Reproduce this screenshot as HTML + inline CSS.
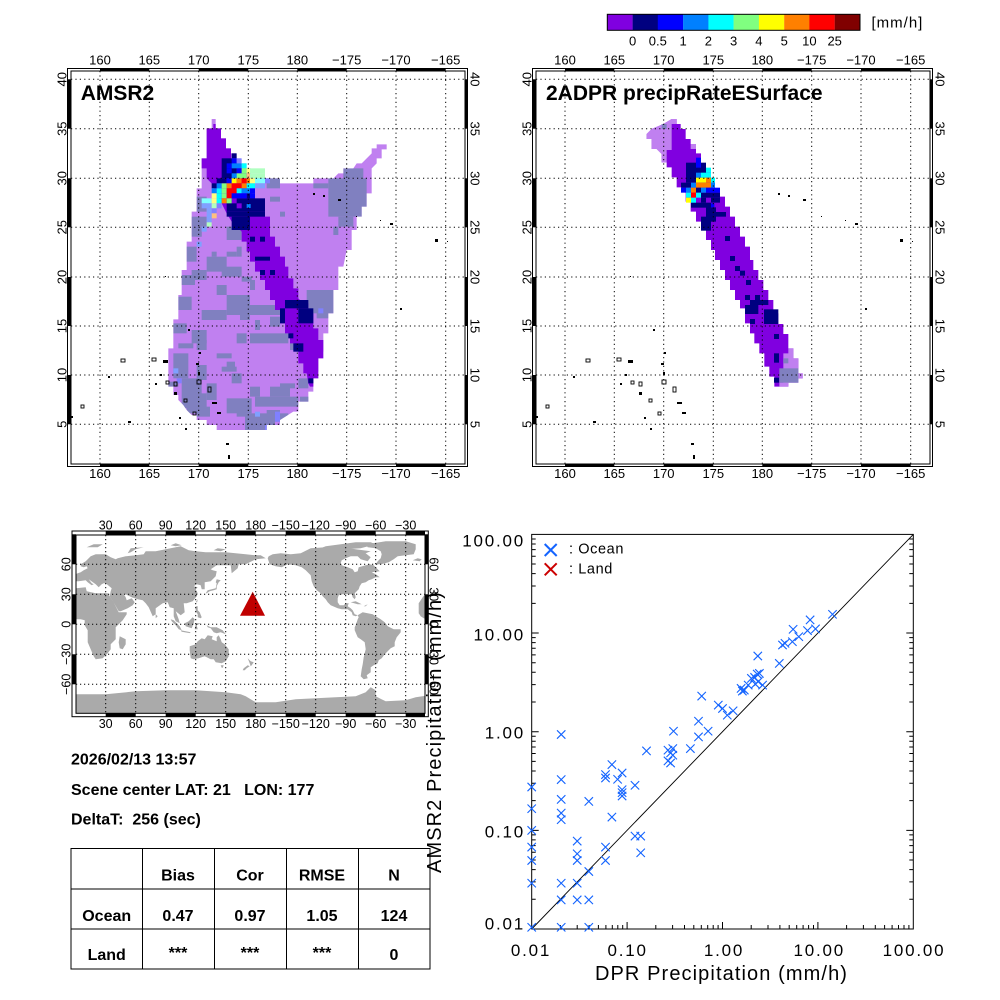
<!DOCTYPE html>
<html><head><meta charset="utf-8">
<style>
html,body{margin:0;padding:0;background:#fff;}
svg{display:block;font-family:"Liberation Sans",sans-serif;}
</style></head><body>
<svg width="1000" height="1000" viewBox="0 0 1000 1000" xmlns="http://www.w3.org/2000/svg">
<rect width="1000" height="1000" fill="#fff"/>
<defs>
<clipPath id="amsrclip"><polygon points="485,207 497,207 497,235 513,235 513,265 528,265 528,295 543,295 543,310 558,310 558,325 573,325 573,340 588,340 588,355 603,355 603,370 645,370 645,385 690,385 690,400 790,400 790,385 850,385 865,370 880,370 880,355 910,355 920,340 935,340 950,325 965,310 965,295 980,295 980,283 1010,283 1010,298 995,298 995,325 980,325 980,340 965,355 965,430 950,430 950,470 935,470 935,500 920,500 920,540 905,540 905,600 890,600 880,650 865,650 865,720 850,720 850,790 835,790 835,850 820,850 820,905 805,905 805,965 790,965 790,1025 775,1025 775,1055 745,1055 745,1085 730,1085 690,1110 690,1125 650,1125 650,1140 500,1140 500,1125 470,1125 470,1110 440,1110 440,1095 425,1095 410,1080 400,1065 385,1050 385,1035 370,1035 370,1010 355,1010 355,895 370,895 370,808 385,808 385,735 395,735 395,660 410,660 410,575 425,575 425,485 440,485 440,415 455,415 455,325 470,325 470,235 485,235"/></clipPath>
<clipPath id="worldclip"><rect x="76" y="535" width="349" height="178.3"/></clipPath>
<path id="xm" d="M-4.2,-4.2L4.2,4.2M-4.2,4.2L4.2,-4.2" stroke="#1464ff" stroke-width="1.1" fill="none"/>
<g id="islands" fill="#000">
<rect x="121" y="359" width="4" height="3" fill="none" stroke="#000" stroke-width="0.9"/>
<rect x="108" y="376" width="2" height="2"/>
<rect x="81" y="405" width="3" height="3" fill="none" stroke="#000" stroke-width="0.9"/>
<rect x="71" y="416" width="2" height="2"/>
<rect x="128" y="421" width="3" height="2"/>
<rect x="152" y="358" width="4" height="3" fill="none" stroke="#000" stroke-width="0.9"/>
<rect x="163" y="360" width="5" height="3"/>
<rect x="160" y="374" width="2" height="2"/>
<rect x="155" y="383" width="2" height="2"/>
<rect x="166" y="381" width="3" height="3" fill="none" stroke="#000" stroke-width="0.9"/>
<rect x="174" y="382" width="3" height="4" fill="none" stroke="#000" stroke-width="0.9"/>
<rect x="174" y="392" width="3" height="3"/>
<rect x="184" y="399" width="3" height="3" fill="none" stroke="#000" stroke-width="0.9"/>
<rect x="179" y="417" width="2" height="2"/>
<rect x="185" y="428" width="2" height="2"/>
<rect x="188" y="329" width="2" height="2"/>
<rect x="165" y="276" width="1" height="1"/>
<rect x="199" y="352" width="2" height="2"/>
<rect x="196" y="363" width="3" height="2"/>
<rect x="198" y="372" width="2" height="3"/>
<rect x="197" y="380" width="4" height="4" fill="none" stroke="#000" stroke-width="0.9"/>
<rect x="208" y="387" width="3" height="5" fill="none" stroke="#000" stroke-width="0.9"/>
<rect x="212" y="402" width="5" height="2"/>
<rect x="193" y="412" width="3" height="3" fill="none" stroke="#000" stroke-width="0.9"/>
<rect x="217" y="412" width="4" height="2"/>
<rect x="226" y="443" width="3" height="2"/>
<rect x="228" y="455" width="2" height="4"/>
<rect x="313" y="193" width="2" height="2"/>
<rect x="323" y="195" width="2" height="2"/>
<rect x="338" y="199" width="3" height="2"/>
<rect x="356" y="216" width="1" height="1"/>
<rect x="380" y="220" width="1" height="1"/>
<rect x="390" y="223" width="3" height="2"/>
<rect x="435" y="239" width="3" height="3"/>
<rect x="447" y="241" width="1" height="1"/>
<rect x="400" y="308" width="2" height="2"/>
</g>
<g id="mapframe">
<path d="M100 71V464M149.3 71V464M198.7 71V464M248.3 71V464M297.3 71V464M346.7 71V464M396 71V464M445.7 71V464M71 79.3H465M71 128.7H465M71 178.3H465M71 227.3H465M71 277H465M71 326H465M71 375H465M71 424.3H465" stroke="#000" stroke-width="1" stroke-dasharray="1.2 3.2" fill="none"/>
<g fill="#000">
<rect x="100" y="68" width="49.3" height="3"/><rect x="198.7" y="68" width="49.6" height="3"/><rect x="297.3" y="68" width="49.4" height="3"/><rect x="396" y="68" width="49.7" height="3"/>
<rect x="100" y="464" width="49.3" height="3"/><rect x="198.7" y="464" width="49.6" height="3"/><rect x="297.3" y="464" width="49.4" height="3"/><rect x="396" y="464" width="49.7" height="3"/>
<rect x="67" y="79.3" width="4" height="49.4"/><rect x="67" y="178.3" width="4" height="49"/><rect x="67" y="277" width="4" height="49"/><rect x="67" y="375" width="4" height="49.3"/>
<rect x="465" y="79.3" width="3" height="49.4"/><rect x="465" y="178.3" width="3" height="49"/><rect x="465" y="277" width="3" height="49"/><rect x="465" y="375" width="3" height="49.3"/>
</g>
<rect x="67.5" y="68.5" width="400" height="398" fill="none" stroke="#000" stroke-width="1"/>
<rect x="71" y="71" width="394" height="393" fill="none" stroke="#000" stroke-width="1"/>
</g>
</defs>

<!-- ================= AMSR2 map ================= -->
<g transform="translate(50,50) scale(0.333333)">
<polygon fill="#c080f0" points="485,207 497,207 497,235 513,235 513,265 528,265 528,295 543,295 543,310 558,310 558,325 573,325 573,340 588,340 588,355 603,355 603,370 645,370 645,385 690,385 690,400 790,400 790,385 850,385 865,370 880,370 880,355 910,355 920,340 935,340 950,325 965,310 965,295 980,295 980,283 1010,283 1010,298 995,298 995,325 980,325 980,340 965,355 965,430 950,430 950,470 935,470 935,500 920,500 920,540 905,540 905,600 890,600 880,650 865,650 865,720 850,720 850,790 835,790 835,850 820,850 820,905 805,905 805,965 790,965 790,1025 775,1025 775,1055 745,1055 745,1085 730,1085 690,1110 690,1125 650,1125 650,1140 500,1140 500,1125 470,1125 470,1110 440,1110 440,1095 425,1095 410,1080 400,1065 385,1050 385,1035 370,1035 370,1010 355,1010 355,895 370,895 370,808 385,808 385,735 395,735 395,660 410,660 410,575 425,575 425,485 440,485 440,415 455,415 455,325 470,325 470,235 485,235"/>
<g clip-path="url(#amsrclip)" fill="#8080c0">
<rect x="835" y="385" width="115" height="115"/><rect x="880" y="355" width="60" height="30"/><rect x="790" y="400" width="45" height="15"/>
<rect x="865" y="500" width="45" height="30"/><rect x="850" y="530" width="15" height="25"/>
<rect x="650" y="385" width="40" height="30"/><rect x="660" y="440" width="30" height="15"/><rect x="690" y="485" width="15" height="15"/>
<rect x="440" y="440" width="30" height="45"/><rect x="425" y="500" width="45" height="30"/><rect x="425" y="530" width="30" height="30"/>
<rect x="410" y="590" width="30" height="45"/><rect x="530" y="530" width="45" height="40"/><rect x="560" y="590" width="15" height="30"/>
<rect x="470" y="620" width="60" height="45"/><rect x="485" y="605" width="15" height="15"/><rect x="515" y="650" width="60" height="30"/>
<rect x="425" y="660" width="45" height="30"/><rect x="395" y="675" width="40" height="30"/><rect x="530" y="605" width="30" height="15"/>
<rect x="575" y="680" width="30" height="15"/><rect x="600" y="690" width="15" height="30"/><rect x="500" y="705" width="30" height="30"/>
<rect x="530" y="735" width="70" height="60"/><rect x="455" y="780" width="75" height="30"/><rect x="385" y="740" width="40" height="40"/>
<rect x="570" y="780" width="30" height="30"/><rect x="600" y="765" width="90" height="30"/><rect x="660" y="800" width="30" height="30"/>
<rect x="615" y="810" width="15" height="30"/><rect x="600" y="850" width="115" height="30"/><rect x="560" y="850" width="30" height="30"/>
<rect x="720" y="870" width="15" height="30"/><rect x="770" y="720" width="90" height="70"/><rect x="800" y="780" width="35" height="25"/>
<rect x="760" y="790" width="30" height="15"/>
<rect x="370" y="820" width="40" height="30"/><rect x="385" y="880" width="45" height="15"/><rect x="425" y="840" width="45" height="40"/>
<rect x="440" y="870" width="30" height="30"/><rect x="370" y="910" width="45" height="75"/><rect x="440" y="945" width="30" height="45"/>
<rect x="355" y="995" width="30" height="15"/><rect x="395" y="985" width="60" height="90"/><rect x="470" y="1000" width="30" height="50"/>
<rect x="410" y="1030" width="60" height="60"/><rect x="440" y="1070" width="40" height="30"/><rect x="500" y="910" width="45" height="15"/>
<rect x="530" y="935" width="25" height="25"/><rect x="515" y="950" width="45" height="15"/><rect x="545" y="970" width="30" height="30"/>
<rect x="530" y="1045" width="75" height="45"/><rect x="560" y="1070" width="30" height="30"/><rect x="600" y="1010" width="30" height="30"/>
<rect x="585" y="1090" width="90" height="50"/><rect x="615" y="1040" width="130" height="30"/><rect x="660" y="1010" width="60" height="30"/>
<rect x="690" y="1000" width="45" height="15"/><rect x="745" y="985" width="30" height="30"/><rect x="750" y="1040" width="30" height="30"/>
<rect x="600" y="1110" width="50" height="30"/><rect x="650" y="1080" width="40" height="30"/><rect x="670" y="1090" width="45" height="25"/>
<rect x="370" y="955" width="15" height="15" fill="#80a0ff"/><rect x="380" y="985" width="15" height="15" fill="#8080ff"/>
<rect x="615" y="1085" width="15" height="15" fill="#80a0ff"/><rect x="675" y="1085" width="15" height="30" fill="#8080ff"/>
<rect x="645" y="1125" width="15" height="15" fill="#8080ff"/><rect x="805" y="775" width="15" height="15" fill="#8080ff"/>
</g>
<polygon fill="#8000e0" points="490,222 497,222 497,235 513,235 513,265 528,265 528,295 543,295 543,325 560,340 575,355 590,370 600,385 600,425 615,440 615,455 630,455 630,470 645,470 645,500 660,500 660,560 675,560 675,590 690,590 690,620 705,620 705,650 715,650 715,685 730,685 730,715 745,715 745,745 760,760 775,760 775,790 790,790 790,835 805,835 805,870 820,870 820,925 805,925 805,985 790,985 790,1010 780,1010 775,1000 770,970 760,970 760,940 745,940 745,905 735,880 720,880 720,850 705,850 705,820 690,820 690,780 675,780 675,750 660,750 660,720 645,720 645,690 630,690 630,665 615,665 615,635 600,635 600,605 590,605 590,575 575,575 575,545 560,530 545,515 530,490 515,460 500,430 485,400 470,385 470,355 455,355 455,325 470,325 470,235 490,235"/>
<g fill="#000080">
<rect x="600" y="560" width="15" height="15"/><rect x="630" y="560" width="15" height="15"/><rect x="615" y="620" width="45" height="12"/>
<rect x="630" y="660" width="15" height="15"/><rect x="660" y="660" width="15" height="15"/><rect x="705" y="750" width="70" height="25"/>
<rect x="690" y="775" width="15" height="45"/><rect x="745" y="775" width="45" height="45"/><rect x="715" y="850" width="15" height="15"/>
<rect x="730" y="880" width="30" height="25"/><rect x="775" y="985" width="15" height="15"/>
</g>
</g>
<g transform="translate(150,110) scale(0.333333)">
<g fill="#000080">
<rect x="245" y="130" width="15" height="15"/><rect x="215" y="145" width="45" height="60"/><rect x="200" y="205" width="30" height="15"/>
<rect x="185" y="220" width="15" height="15"/><rect x="290" y="250" width="25" height="15"/><rect x="230" y="265" width="115" height="40"/>
<rect x="230" y="305" width="115" height="15"/><rect x="245" y="320" width="55" height="40"/>
</g>
<rect x="245" y="265" width="15" height="15" fill="#8000e0"/><rect x="260" y="280" width="15" height="15" fill="#8000e0"/><rect x="290" y="282" width="12" height="12" fill="#0080ff"/>
<rect x="245" y="145" width="15" height="15" fill="#0000ff"/><rect x="260" y="145" width="15" height="15" fill="#8080ff"/>
<rect x="230" y="160" width="15" height="15" fill="#0000ff"/><rect x="245" y="160" width="30" height="15" fill="#0080ff"/><rect x="275" y="160" width="15" height="15" fill="#00ffff"/>
<rect x="230" y="175" width="15" height="15" fill="#0000ff"/><rect x="260" y="175" width="15" height="15" fill="#0000ff"/><rect x="275" y="175" width="15" height="15" fill="#80ff80"/><rect x="290" y="175" width="10" height="15" fill="#ffff80"/><rect x="300" y="175" width="45" height="15" fill="#b0ffc0"/>
<rect x="245" y="190" width="15" height="15" fill="#0080ff"/><rect x="260" y="190" width="30" height="15" fill="#80ff80"/><rect x="290" y="190" width="10" height="15" fill="#ffc080"/><rect x="300" y="190" width="45" height="15" fill="#b0ffc0"/>
<rect x="230" y="205" width="15" height="15" fill="#0000ff"/><rect x="245" y="205" width="15" height="15" fill="#ffff00"/><rect x="260" y="205" width="15" height="15" fill="#ff8000"/><rect x="275" y="205" width="15" height="15" fill="#ff0000"/><rect x="290" y="205" width="10" height="15" fill="#ff8000"/><rect x="300" y="205" width="15" height="15" fill="#ffff80"/><rect x="315" y="205" width="30" height="15" fill="#80ffff"/><rect x="345" y="205" width="15" height="15" fill="#8080ff"/>
<rect x="200" y="220" width="15" height="15" fill="#0080ff"/><rect x="215" y="220" width="15" height="15" fill="#80ff80"/><rect x="230" y="220" width="15" height="15" fill="#ff8000"/><rect x="245" y="220" width="30" height="15" fill="#ff0000"/><rect x="275" y="220" width="15" height="15" fill="#ff8000"/><rect x="290" y="220" width="25" height="15" fill="#00ffff"/><rect x="315" y="220" width="30" height="15" fill="#80a0ff"/>
<rect x="185" y="235" width="15" height="15" fill="#0080ff"/><rect x="200" y="235" width="15" height="15" fill="#00ffff"/><rect x="215" y="235" width="15" height="15" fill="#80ff80"/><rect x="230" y="235" width="30" height="15" fill="#ff0000"/><rect x="260" y="235" width="15" height="15" fill="#00ffff"/><rect x="275" y="235" width="25" height="15" fill="#0080ff"/><rect x="300" y="235" width="15" height="15" fill="#0000ff"/>
<rect x="185" y="250" width="15" height="15" fill="#ffff80"/><rect x="200" y="250" width="15" height="15" fill="#00ffff"/><rect x="215" y="250" width="15" height="15" fill="#80ff80"/><rect x="230" y="250" width="15" height="15" fill="#ff0000"/><rect x="245" y="250" width="45" height="15" fill="#0000ff"/><rect x="300" y="250" width="15" height="15" fill="#0000ff"/>
<rect x="155" y="265" width="30" height="15" fill="#80ffff"/><rect x="185" y="265" width="15" height="15" fill="#ffff80"/><rect x="200" y="265" width="15" height="15" fill="#00ffff"/><rect x="215" y="265" width="15" height="15" fill="#ff8000"/><rect x="230" y="265" width="15" height="15" fill="#80ff80"/>
<rect x="155" y="280" width="30" height="15" fill="#80a0ff"/><rect x="185" y="280" width="15" height="15" fill="#b0ffc0"/><rect x="200" y="280" width="15" height="15" fill="#8080ff"/>
<rect x="170" y="295" width="15" height="15" fill="#80a0ff"/><rect x="185" y="295" width="15" height="15" fill="#8080ff"/>
<rect x="185" y="310" width="15" height="15" fill="#ffc080"/><rect x="170" y="310" width="15" height="15" fill="#80a0ff"/>
<rect x="170" y="325" width="15" height="12" fill="#80a0ff"/><rect x="170" y="337" width="15" height="13" fill="#b0ffc0"/>
<rect x="155" y="350" width="15" height="15" fill="#80a0ff"/><rect x="140" y="365" width="15" height="15" fill="#8080c0"/><rect x="140" y="395" width="15" height="15" fill="#80a0ff"/>
</g>
<use href="#islands"/>
<use href="#mapframe"/>
<text x="80.7" y="100" font-size="21" font-weight="bold">AMSR2</text>
<g font-size="13" text-anchor="middle">
<text x="100" y="64.7">160</text><text x="149.3" y="64.7">165</text><text x="198.7" y="64.7">170</text><text x="248.3" y="64.7">175</text><text x="297.3" y="64.7">180</text><text x="346.7" y="64.7">−175</text><text x="396" y="64.7">−170</text><text x="445.7" y="64.7">−165</text>
<text x="100" y="478">160</text><text x="149.3" y="478">165</text><text x="198.7" y="478">170</text><text x="248.3" y="478">175</text><text x="297.3" y="478">180</text><text x="346.7" y="478">−175</text><text x="396" y="478">−170</text><text x="445.7" y="478">−165</text>
<text transform="translate(66.7,79.3) rotate(-90)">40</text><text transform="translate(66.7,128.7) rotate(-90)">35</text><text transform="translate(66.7,178.3) rotate(-90)">30</text><text transform="translate(66.7,227.3) rotate(-90)">25</text><text transform="translate(66.7,277) rotate(-90)">20</text><text transform="translate(66.7,326) rotate(-90)">15</text><text transform="translate(66.7,375) rotate(-90)">10</text><text transform="translate(66.7,424.3) rotate(-90)">5</text>
<text transform="translate(470.6,79.3) rotate(90)">40</text><text transform="translate(470.6,128.7) rotate(90)">35</text><text transform="translate(470.6,178.3) rotate(90)">30</text><text transform="translate(470.6,227.3) rotate(90)">25</text><text transform="translate(470.6,277) rotate(90)">20</text><text transform="translate(470.6,326) rotate(90)">15</text><text transform="translate(470.6,375) rotate(90)">10</text><text transform="translate(470.6,424.3) rotate(90)">5</text>
</g>

<!-- ================= DPR map ================= -->
<g transform="translate(520,50) scale(0.333333)">
<polygon fill="#8000e0" points="455,207 430,222 395,237 380,252 380,267 395,267 395,297 410,297 425,312 425,337 440,337 440,352 455,352 455,382 470,382 470,412 485,412 485,427 497,427 497,455 512,455 512,485 528,485 528,515 543,515 543,540 558,540 558,570 573,570 573,600 585,600 585,630 600,630 600,660 615,660 615,690 630,690 630,720 645,720 645,750 660,750 660,775 675,775 675,820 690,820 690,850 703,850 703,880 718,880 718,910 733,910 733,950 748,950 748,980 763,980 763,1010 805,1010 805,998 835,998 835,985 848,985 848,970 835,970 835,925 820,925 820,895 805,895 805,852 790,852 790,822 775,822 775,790 760,790 760,750 745,750 745,720 730,720 730,690 715,690 715,660 700,660 700,630 690,630 690,590 675,590 675,560 660,560 660,530 645,530 645,500 630,500 630,470 615,470 615,440 600,440 600,415 585,415 585,385 573,385 573,355 558,355 558,340 543,340 543,310 528,310 528,282 512,282 512,267 497,267 497,237 482,237 482,222 470,222 470,207"/>
<polygon fill="#c080f0" points="455,207 470,207 470,222 455,222 455,300 440,300 440,337 425,337 425,312 410,297 395,297 395,267 380,267 380,252 395,237 430,222"/>
<rect x="512" y="282" width="16" height="15" fill="#c080f0"/>
<rect x="425" y="222" width="15" height="15" fill="#8080c0"/>
<polygon fill="#c080f0" points="805,895 820,895 820,925 835,925 835,970 848,970 848,985 835,985 835,998 805,998 805,1010 778,1010 778,998 790,998 790,910 805,910"/>
<rect x="778" y="955" width="57" height="43" fill="#8080c0"/><rect x="790" y="925" width="15" height="15" fill="#8080c0"/>
<g fill="#000080">
<rect x="615" y="558" width="15" height="15"/><rect x="630" y="618" width="15" height="15"/><rect x="645" y="648" width="15" height="15"/>
<rect x="660" y="662" width="15" height="15"/><rect x="678" y="690" width="15" height="15"/><rect x="675" y="735" width="15" height="15"/>
<rect x="705" y="735" width="15" height="15"/><rect x="690" y="750" width="55" height="15"/><rect x="675" y="765" width="40" height="27"/>
<rect x="732" y="778" width="43" height="44"/><rect x="690" y="807" width="15" height="15"/><rect x="762" y="852" width="15" height="15"/>
<rect x="762" y="910" width="15" height="28"/><rect x="762" y="983" width="15" height="15"/>
</g>
</g>
<g transform="translate(640,120) scale(0.333333)">
<g fill="#000080">
<rect x="138" y="128" width="60" height="60"/><rect x="123" y="188" width="30" height="15"/><rect x="183" y="218" width="57" height="15"/>
<rect x="213" y="233" width="27" height="15"/><rect x="153" y="248" width="60" height="15"/><rect x="198" y="262" width="30" height="43"/>
<rect x="228" y="276" width="30" height="14"/><rect x="183" y="290" width="30" height="42"/><rect x="183" y="233" width="15" height="15"/>
</g>
<rect x="168" y="113" width="15" height="30" fill="#0000ff"/>
<rect x="198" y="143" width="15" height="15" fill="#00ffff"/><rect x="183" y="158" width="30" height="15" fill="#00ffff"/><rect x="168" y="158" width="15" height="15" fill="#0080ff"/>
<rect x="168" y="173" width="30" height="15" fill="#ffff00"/><rect x="198" y="173" width="15" height="15" fill="#ff8000"/><rect x="213" y="173" width="12" height="15" fill="#00ffff"/>
<rect x="153" y="188" width="15" height="15" fill="#0080ff"/><rect x="168" y="188" width="45" height="15" fill="#ff8000"/><rect x="213" y="188" width="12" height="15" fill="#0080ff"/>
<rect x="123" y="203" width="15" height="15" fill="#0000ff"/><rect x="138" y="203" width="15" height="15" fill="#0080ff"/><rect x="153" y="203" width="15" height="15" fill="#ff8000"/><rect x="168" y="203" width="15" height="15" fill="#000080"/><rect x="183" y="203" width="15" height="15" fill="#0080ff"/><rect x="198" y="203" width="42" height="15" fill="#0000ff"/>
<rect x="138" y="218" width="15" height="15" fill="#00ffff"/><rect x="153" y="218" width="15" height="15" fill="#ff0000"/><rect x="168" y="218" width="15" height="15" fill="#00ffff"/>
<rect x="138" y="233" width="15" height="15" fill="#ffff00"/><rect x="153" y="233" width="15" height="15" fill="#00ffff"/>
<rect x="213" y="250" width="10" height="12" fill="#0000ff"/>
</g>
<g transform="translate(465,0)"><use href="#islands"/><use href="#mapframe"/></g>
<text x="546" y="100" font-size="21" font-weight="bold">2ADPR precipRateESurface</text>
<g font-size="13" text-anchor="middle">
<text x="565" y="64.7">160</text><text x="614.3" y="64.7">165</text><text x="663.7" y="64.7">170</text><text x="713.3" y="64.7">175</text><text x="762.3" y="64.7">180</text><text x="811.7" y="64.7">−175</text><text x="861" y="64.7">−170</text><text x="910.7" y="64.7">−165</text>
<text x="565" y="478">160</text><text x="614.3" y="478">165</text><text x="663.7" y="478">170</text><text x="713.3" y="478">175</text><text x="762.3" y="478">180</text><text x="811.7" y="478">−175</text><text x="861" y="478">−170</text><text x="910.7" y="478">−165</text>
<text transform="translate(531.7,79.3) rotate(-90)">40</text><text transform="translate(531.7,128.7) rotate(-90)">35</text><text transform="translate(531.7,178.3) rotate(-90)">30</text><text transform="translate(531.7,227.3) rotate(-90)">25</text><text transform="translate(531.7,277) rotate(-90)">20</text><text transform="translate(531.7,326) rotate(-90)">15</text><text transform="translate(531.7,375) rotate(-90)">10</text><text transform="translate(531.7,424.3) rotate(-90)">5</text>
<text transform="translate(935.6,79.3) rotate(90)">40</text><text transform="translate(935.6,128.7) rotate(90)">35</text><text transform="translate(935.6,178.3) rotate(90)">30</text><text transform="translate(935.6,227.3) rotate(90)">25</text><text transform="translate(935.6,277) rotate(90)">20</text><text transform="translate(935.6,326) rotate(90)">15</text><text transform="translate(935.6,375) rotate(90)">10</text><text transform="translate(935.6,424.3) rotate(90)">5</text>
</g>

<!-- ================= Colorbar ================= -->
<rect x="607.3" y="14.3" width="25.4" height="16" fill="#8000e0"/>
<rect x="632.6" y="14.3" width="25.4" height="16" fill="#000080"/>
<rect x="657.8" y="14.3" width="25.4" height="16" fill="#0000ff"/>
<rect x="683.1" y="14.3" width="25.4" height="16" fill="#0080ff"/>
<rect x="708.4" y="14.3" width="25.4" height="16" fill="#00ffff"/>
<rect x="733.6" y="14.3" width="25.4" height="16" fill="#80ff80"/>
<rect x="758.9" y="14.3" width="25.4" height="16" fill="#ffff00"/>
<rect x="784.2" y="14.3" width="25.4" height="16" fill="#ff8000"/>
<rect x="809.4" y="14.3" width="25.4" height="16" fill="#ff0000"/>
<rect x="834.7" y="14.3" width="25.3" height="16" fill="#800000"/>
<rect x="607.3" y="14.3" width="252.7" height="16" fill="none" stroke="#000" stroke-width="1"/>
<g font-size="13" text-anchor="middle">
<text x="632.6" y="45.5">0</text><text x="657.8" y="45.5">0.5</text><text x="683.1" y="45.5">1</text><text x="708.4" y="45.5">2</text><text x="733.6" y="45.5">3</text><text x="758.9" y="45.5">4</text><text x="784.2" y="45.5">5</text><text x="809.4" y="45.5">10</text><text x="834.7" y="45.5">25</text>
</g>
<text x="871.5" y="27.5" font-size="15" letter-spacing="1">[mm/h]</text>

<!-- ================= World map ================= -->
<g clip-path="url(#worldclip)">
<g transform="translate(75.7,624.3) scale(1,-1)" fill="#aaaaaa">
<polygon points="0,36 10,37 11,33 20,31 32,31 34,28 38,22 43,12 51,12 51,10 47,4 40,-3 40,-10 40,-15 35,-20 35,-25 32,-29 27,-34 20,-35 18,-32 15,-25 12,-18 12,-6 9,-1 9,4 5,5 0,5"/>
<polygon points="44,-12 50,-15 50,-20 47,-25 44,-24 43,-18"/>
<polygon points="0,43 3,43 10,44 12,42 16,39 18,40 16,41 13,45 20,40 23,37 26,40 28,41 30,41 36,36 35,33 34,28 39,20 43,13 45,13 52,16 57,19 59,22 56,26 51,24 50,27 48,30 50,30 56,27 62,25 67,24 70,21 73,17 77,8 80,10 80,16 87,21 92,22 94,17 98,16 98,8 100,3 104,1 103,5 100,13 105,9 109,12 108,21 111,21 117,23 121,28 122,31 120,35 122,37 118,38 121,40 125,39 126,35 129,35 129,42 135,43 140,48 141,53 137,54 135,55 141,59 150,59 155,59 156,51 162,56 163,60 170,60 180,65 190,66 185,69 180,69 170,70 160,71 150,72 140,72 130,72 120,73 113,74 105,78 100,77 90,75 80,73 70,73 68,70 60,69 50,68 42,66 40,65 35,67 30,70 20,70 15,68 10,63 5,60 5,58 8,57 11,58 12,56 8,54 5,52 2,51 0,50"/>
<polygon points="52,71 55,76 68,77 60,75 55,72"/>
<polygon points="11,77 18,80 27,80 22,77 15,77"/>
<polygon points="95,79 100,81 106,79 100,78"/>
<polygon points="138,74 142,76 150,75 145,73"/>
<polygon points="130,31 132,34 136,35 140,36 141,41 140,42 141,45 145,44 143,42 141,38 141,35 138,34 134,33 131,31"/>
<polygon points="120,18 122,18 122,14 124,12 126,7 125,6 122,7 122,10 120,13 120,16"/>
<polygon points="120,22 122,25 121.5,22"/>
<polygon points="109,1 110,-2 116,-4 118,1 119,5 117,7 113,3"/>
<polygon points="95,5 98,4 104,-2 106,-6 103,-5 100,-1 96,3"/>
<polygon points="105,-6 115,-8 114,-8.8 106,-7.5"/>
<polygon points="119,-5 120,0 121,1 125,1 121,-1 122,-5"/>
<polygon points="131,-1 135,-3 141,-3 147,-6 150,-10 145,-8 141,-9 138,-8 135,-4 132,-3"/>
<polygon points="114,-22 114,-26 115,-34 118,-35 123,-34 129,-32 135,-35 138,-35 140,-38 146,-39 150,-37 153,-32 153,-25 149,-20 146,-18 145,-15 143,-11 141,-13 141,-17 136,-15 137,-12 132,-11 129,-15 126,-14 122,-17 120,-20"/>
<polygon points="145,-41 148,-41 147,-43.5 146,-43.5"/>
<polygon points="172,-34 175,-37 178,-38 176,-41 175,-42 174,-39"/>
<polygon points="172,-41 174,-42 171,-44 169,-46 167,-46 168,-44"/>
<polygon points="80,6 80,10 82,8"/>
<polygon points="354,50 358,51 360,53 358,57 354,58 355,55"/>
<polygon points="350,52 354,52 354,55 351,55"/>
<polygon points="337,64 342,66 346,65 344,63"/>
<polygon points="351,37 351,43 358,44 358,46 355,48 358,49 360,50 360,38 355,36"/>
<polygon points="343,15 343,21 347,27 350,31 354,35 360,36 360,5 352,5 348,6 345,8 343,11"/>
<polygon points="192,66 194,60 200,58 206,57 212,60 220,59 226,57 230,54 235,49 236,43 238,38 241,34 245,31 247,28 250,25 252,22 255,19 262,16 266,15 272,15 276,12 277,9 280,8 282,9 279,10 277,14 275,16 272,18 273,21 270,21 268,19 264,19 262,22 262,26 263,29 266,30 270,30 276,30 277,27 279,25 280,27 279,31 283,35 284,38 286,41 290,42 293,44 296,45 300,47 304,47 300,50 296,52 304,53 300,57 298,59 294,60 290,59 283,57 282,53 279,52 277,55 272,57 266,59 265,61 266,64 270,66 275,68 282,68 285,70 290,71 295,73 280,75 265,77 250,77 235,76 225,71 215,70 205,71 197,70 193,68"/>
<polygon points="250,78 265,80 280,82 295,82 300,80 285,76 270,75 255,75 245,76"/>
<polygon points="280,70 285,65 292,63 295,67 290,71 285,73 278,72"/>
<polygon points="300,60 305,60 313,62 318,65 322,68 338,70 340,75 340,80 330,83 310,83 290,80 292,77 300,76 305,73 306,70 305,66 302,63"/>
<polygon points="275,22 280,23 286,20 282,20"/>
<polygon points="288,18 292,20 290,18"/>
<polygon points="282,9 287,12 292,11 297,10 300,8 305,5 309,2 312,-2 318,-5 325,-5 325,-8 321,-13 319,-18 319,-22 315,-24 312,-27 309,-30 306,-34 303,-36 302,-39 298,-41 295,-43 295,-48 291,-51 292,-54 288,-55 285,-52 286,-45 287,-40 288,-33 290,-25 289,-18 285,-15 282,-13 279,-6 279,-3 280,-1 281,2 282,5 283,7"/>
<polygon points="0,-70 30,-70 60,-67 90,-66 120,-66 150,-68 165,-70 170,-72 180,-78 200,-78 220,-75 240,-74 260,-73 280,-72 290,-68 295,-63 300,-66 300,-72 310,-77 330,-76 340,-73 360,-70 360,-92 0,-92"/>
</g>
</g>
<polygon points="252.7,591.7 240,615.7 265,615.7" fill="#c00000"/>
<path d="M105.7 535V713M135.7 535V713M165.7 535V713M195.7 535V713M225.7 535V713M255.7 535V713M285.7 535V713M315.7 535V713M345.7 535V713M375.7 535V713M405.7 535V713M76 564.3H425M76 594.3H425M76 624.3H425M76 654.3H425M76 684.3H425" stroke="#000" stroke-width="1" stroke-dasharray="1.2 2.8" fill="none"/>
<g fill="#000">
<rect x="105.7" y="531" width="30" height="4"/><rect x="165.7" y="531" width="30" height="4"/><rect x="225.7" y="531" width="30" height="4"/><rect x="285.7" y="531" width="30" height="4"/><rect x="345.7" y="531" width="30" height="4"/><rect x="405.7" y="531" width="19.3" height="4"/>
<rect x="105.7" y="713.3" width="30" height="3.4"/><rect x="165.7" y="713.3" width="30" height="3.4"/><rect x="225.7" y="713.3" width="30" height="3.4"/><rect x="285.7" y="713.3" width="30" height="3.4"/><rect x="345.7" y="713.3" width="30" height="3.4"/><rect x="405.7" y="713.3" width="19.3" height="3.4"/>
<rect x="72" y="534.3" width="4" height="30"/><rect x="72" y="594.3" width="4" height="30"/><rect x="72" y="654.3" width="4" height="30"/>
<rect x="425" y="534.3" width="3.3" height="30"/><rect x="425" y="594.3" width="3.3" height="30"/><rect x="425" y="654.3" width="3.3" height="30"/>
</g>
<rect x="72" y="531" width="356.3" height="185.7" fill="none" stroke="#000" stroke-width="1"/>
<rect x="76" y="535" width="349" height="178.3" fill="none" stroke="#000" stroke-width="1"/>
<g font-size="12.5" text-anchor="middle">
<text x="105.7" y="529.5">30</text><text x="135.7" y="529.5">60</text><text x="165.7" y="529.5">90</text><text x="195.7" y="529.5">120</text><text x="225.7" y="529.5">150</text><text x="255.7" y="529.5">180</text><text x="285.7" y="529.5">−150</text><text x="315.7" y="529.5">−120</text><text x="345.7" y="529.5">−90</text><text x="375.7" y="529.5">−60</text><text x="405.7" y="529.5">−30</text>
<text x="105.7" y="727.8">30</text><text x="135.7" y="727.8">60</text><text x="165.7" y="727.8">90</text><text x="195.7" y="727.8">120</text><text x="225.7" y="727.8">150</text><text x="255.7" y="727.8">180</text><text x="285.7" y="727.8">−150</text><text x="315.7" y="727.8">−120</text><text x="345.7" y="727.8">−90</text><text x="375.7" y="727.8">−60</text><text x="405.7" y="727.8">−30</text>
<text transform="translate(70.5,564.3) rotate(-90)">60</text><text transform="translate(70.5,594.3) rotate(-90)">30</text><text transform="translate(70.5,624.3) rotate(-90)">0</text><text transform="translate(70.5,654.3) rotate(-90)">−30</text><text transform="translate(70.5,684.3) rotate(-90)">−60</text>
<text transform="translate(429.5,564.3) rotate(90)">60</text><text transform="translate(429.5,594.3) rotate(90)">30</text><text transform="translate(429.5,624.3) rotate(90)">0</text><text transform="translate(429.5,654.3) rotate(90)">−30</text><text transform="translate(429.5,684.3) rotate(90)">−60</text>
</g>

<!-- ================= Info text & table ================= -->
<g font-size="16" font-weight="bold">
<text x="71" y="764.3">2026/02/13 13:57</text>
<text x="71" y="795" xml:space="preserve">Scene center LAT: 21   LON: 177</text>
<text x="71" y="824.5" xml:space="preserve">DeltaT:  256 (sec)</text>
</g>
<g stroke="#000" stroke-width="1" fill="none">
<rect x="71" y="848.5" width="359" height="120.5"/>
<path d="M71 889H430M71 929H430M142.5 848.5V969M214.5 848.5V969M286.5 848.5V969M358.5 848.5V969"/>
</g>
<g font-size="16" font-weight="bold" text-anchor="middle">
<text x="178" y="880.5">Bias</text><text x="250" y="880.5">Cor</text><text x="322" y="880.5">RMSE</text><text x="394" y="880.5">N</text>
<text x="106.7" y="921">Ocean</text><text x="178" y="921">0.47</text><text x="250" y="921">0.97</text><text x="322" y="921">1.05</text><text x="394" y="921">124</text>
<text x="106.7" y="960">Land</text><text x="178" y="958">***</text><text x="250" y="958">***</text><text x="322" y="958">***</text><text x="394" y="960">0</text>
</g>

<!-- ================= Scatter plot ================= -->
<rect x="531.7" y="534.4" width="381.6" height="394.6" fill="none" stroke="#000" stroke-width="1"/>
<line x1="531.7" y1="929" x2="913.3" y2="534.4" stroke="#000" stroke-width="0.9"/>
<path stroke="#000" stroke-width="1" fill="none" d="
M531.7 830.35h7M531.7 731.7h7M531.7 633.05h7
M531.7 899.3h4M531.7 881.9h4M531.7 869.6h4M531.7 860h4M531.7 852.2h4M531.7 845.6h4M531.7 839.9h4M531.7 834.9h4
M531.7 800.65h4M531.7 783.25h4M531.7 770.95h4M531.7 761.35h4M531.7 753.55h4M531.7 746.95h4M531.7 741.25h4M531.7 736.25h4
M531.7 702h4M531.7 684.6h4M531.7 672.3h4M531.7 662.7h4M531.7 654.9h4M531.7 648.3h4M531.7 642.6h4M531.7 637.6h4
M531.7 603.35h4M531.7 585.95h4M531.7 573.65h4M531.7 564.05h4M531.7 556.25h4M531.7 549.65h4M531.7 543.95h4M531.7 538.95h4
M913.3 830.35h-7M913.3 731.7h-7M913.3 633.05h-7
M913.3 899.3h-4M913.3 881.9h-4M913.3 869.6h-4M913.3 860h-4M913.3 852.2h-4M913.3 845.6h-4M913.3 839.9h-4M913.3 834.9h-4
M913.3 800.65h-4M913.3 783.25h-4M913.3 770.95h-4M913.3 761.35h-4M913.3 753.55h-4M913.3 746.95h-4M913.3 741.25h-4M913.3 736.25h-4
M913.3 702h-4M913.3 684.6h-4M913.3 672.3h-4M913.3 662.7h-4M913.3 654.9h-4M913.3 648.3h-4M913.3 642.6h-4M913.3 637.6h-4
M913.3 603.35h-4M913.3 585.95h-4M913.3 573.65h-4M913.3 564.05h-4M913.3 556.25h-4M913.3 549.65h-4M913.3 543.95h-4M913.3 538.95h-4
M627.1 929v-7M722.5 929v-7M817.9 929v-7
M560.4 929v-4M577.2 929v-4M589.1 929v-4M598.4 929v-4M605.9 929v-4M612.3 929v-4M617.8 929v-4M622.7 929v-4
M655.8 929v-4M672.6 929v-4M684.5 929v-4M693.8 929v-4M701.3 929v-4M707.7 929v-4M713.2 929v-4M718.1 929v-4
M751.2 929v-4M768 929v-4M779.9 929v-4M789.2 929v-4M796.7 929v-4M803.1 929v-4M808.6 929v-4M813.5 929v-4
M846.6 929v-4M863.4 929v-4M875.3 929v-4M884.6 929v-4M892.1 929v-4M898.5 929v-4M904 929v-4M908.9 929v-4"/>
<g>
<use href="#xm" x="531.7" y="787"/><use href="#xm" x="531.7" y="808.7"/><use href="#xm" x="531.7" y="830.4"/><use href="#xm" x="531.7" y="847.1"/><use href="#xm" x="531.7" y="860.5"/><use href="#xm" x="531.7" y="883.2"/><use href="#xm" x="531.7" y="927.3"/>
<use href="#xm" x="561.2" y="734.5"/><use href="#xm" x="561.2" y="779.6"/><use href="#xm" x="561.2" y="799.4"/><use href="#xm" x="561.2" y="813.1"/><use href="#xm" x="561.2" y="819.7"/><use href="#xm" x="561.2" y="883.2"/><use href="#xm" x="561.2" y="899.9"/><use href="#xm" x="561.2" y="927.3"/>
<use href="#xm" x="577.2" y="841.1"/><use href="#xm" x="577.2" y="853.8"/><use href="#xm" x="577.2" y="860.5"/><use href="#xm" x="577.2" y="883.2"/><use href="#xm" x="577.2" y="899.9"/>
<use href="#xm" x="588.8" y="801.4"/><use href="#xm" x="588.8" y="871.5"/><use href="#xm" x="588.8" y="899.9"/><use href="#xm" x="588.8" y="927.3"/>
<use href="#xm" x="605.5" y="774.6"/><use href="#xm" x="605.5" y="778"/><use href="#xm" x="605.5" y="847.1"/><use href="#xm" x="605.5" y="860.5"/>
<use href="#xm" x="611.9" y="764.6"/><use href="#xm" x="611.9" y="817.1"/><use href="#xm" x="617.6" y="779.3"/>
<use href="#xm" x="622.1" y="773"/><use href="#xm" x="622.1" y="789.7"/><use href="#xm" x="622.1" y="792.7"/><use href="#xm" x="622.1" y="796"/>
<use href="#xm" x="635" y="785.3"/><use href="#xm" x="635" y="836.1"/><use href="#xm" x="640.7" y="836.1"/><use href="#xm" x="640.7" y="852.8"/>
<use href="#xm" x="646.5" y="750.9"/>
<use href="#xm" x="668" y="750.2"/><use href="#xm" x="668" y="760.9"/><use href="#xm" x="670.6" y="752.9"/><use href="#xm" x="670.6" y="763"/><use href="#xm" x="672.8" y="748.6"/><use href="#xm" x="672.8" y="755.2"/>
<use href="#xm" x="673.5" y="731.2"/><use href="#xm" x="690.4" y="748.6"/><use href="#xm" x="698.5" y="721.2"/><use href="#xm" x="698.5" y="736.9"/>
<use href="#xm" x="701.7" y="696.1"/><use href="#xm" x="708.1" y="731.2"/><use href="#xm" x="718.3" y="705.1"/><use href="#xm" x="722.5" y="708.5"/>
<use href="#xm" x="727.3" y="715.2"/><use href="#xm" x="733.1" y="710.8"/>
<use href="#xm" x="741.1" y="688.4"/><use href="#xm" x="744.3" y="690.1"/><use href="#xm" x="748.2" y="685.1"/><use href="#xm" x="742.4" y="691.1"/>
<use href="#xm" x="751.4" y="678.4"/><use href="#xm" x="754.6" y="677.4"/><use href="#xm" x="757.2" y="674.1"/><use href="#xm" x="759.4" y="673.4"/><use href="#xm" x="758.2" y="681.7"/><use href="#xm" x="762.6" y="685.1"/><use href="#xm" x="755.3" y="684.1"/>
<use href="#xm" x="757.8" y="656"/><use href="#xm" x="779.3" y="663.4"/><use href="#xm" x="782.5" y="645"/><use href="#xm" x="785" y="643.3"/>
<use href="#xm" x="793.1" y="629.3"/><use href="#xm" x="792.4" y="641.7"/><use href="#xm" x="798.8" y="636.7"/>
<use href="#xm" x="807.5" y="630.6"/><use href="#xm" x="810.1" y="619.9"/><use href="#xm" x="815.5" y="628.9"/><use href="#xm" x="832.5" y="614.3"/>
</g>
<path d="M544.7 544L556.7 556M544.7 556L556.7 544" stroke="#1464ff" stroke-width="2" fill="none"/>
<path d="M544.7 563.3L556.7 575.3M544.7 575.3L556.7 563.3" stroke="#cc0000" stroke-width="2" fill="none"/>
<g font-size="14.5" letter-spacing="0.6">
<text x="569" y="553.3">: Ocean</text>
<text x="569" y="573.3">: Land</text>
</g>
<g font-size="17" letter-spacing="1.8" text-anchor="end">
<text x="525" y="546.7">100.00</text><text x="525" y="640.3">10.00</text><text x="525" y="738.7">1.00</text><text x="525" y="837.7">0.10</text><text x="525" y="929.3">0.01</text>
</g>
<g font-size="17" letter-spacing="1.8" text-anchor="middle">
<text x="531" y="956">0.01</text><text x="627.6" y="956">0.10</text><text x="724" y="956">1.00</text><text x="819.3" y="956">10.00</text><text x="914" y="956">100.00</text>
</g>
<text x="721.5" y="980" font-size="20" letter-spacing="1.1" text-anchor="middle">DPR Precipitation (mm/h)</text>
<text transform="translate(441,732) rotate(-90)" font-size="20" letter-spacing="1.1" text-anchor="middle">AMSR2 Precipitation (mm/h)</text>
</svg>
</body></html>
